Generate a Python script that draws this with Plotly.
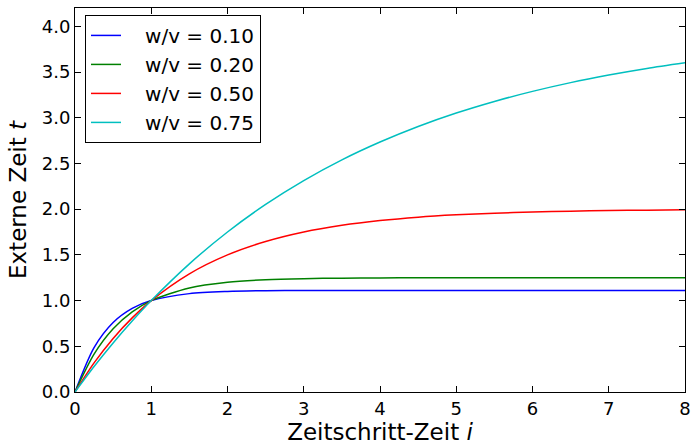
import plotly.graph_objects as go

# Sample points (Zeitschritt-Zeit i)
zeit_i = [0, 0.25, 0.5, 0.75, 1, 1.5, 2, 2.5, 3, 3.5, 4, 4.5, 5, 5.5, 6, 6.5, 7, 7.5, 8]

# Externe Zeit t per ratio w/v
t_010 = [0, 0.486, 0.760, 0.914, 1.0, 1.076, 1.100, 1.108, 1.110, 1.111, 1.111, 1.111, 1.111, 1.111, 1.111, 1.111, 1.111, 1.111, 1.111]
t_020 = [0, 0.414, 0.691, 0.876, 1.0, 1.138, 1.200, 1.228, 1.240, 1.2455, 1.248, 1.249, 1.2496, 1.2499, 1.25, 1.25, 1.25, 1.25, 1.25]
t_050 = [0, 0.318, 0.586, 0.811, 1.0, 1.293, 1.500, 1.646, 1.750, 1.823, 1.875, 1.912, 1.9375, 1.956, 1.969, 1.978, 1.984, 1.989, 1.992]
t_075 = [0, 0.278, 0.536, 0.776, 1.0, 1.402, 1.750, 2.052, 2.3125, 2.539, 2.734, 2.904, 3.051, 3.178, 3.288, 3.384, 3.466, 3.538, 3.600]

series_names = ["w/v = 0.10", "w/v = 0.20", "w/v = 0.50", "w/v = 0.75"]
series_values = [t_010, t_020, t_050, t_075]
series_colors = ["#0000ff", "#008000", "#ff0000", "#00bfbf"]

x_ticks = [0, 1, 2, 3, 4, 5, 6, 7, 8]
y_ticks = [0.0, 0.5, 1.0, 1.5, 2.0, 2.5, 3.0, 3.5, 4.0]

fig = go.Figure()
for k, (name, vals, col) in enumerate(zip(series_names, series_values, series_colors)):
    fig.add_trace(go.Scatter(
        x=zeit_i, y=vals, name="\u00a0\u00a0\u00a0" + name, mode="lines",
        line=dict(color=col, width=1.5, shape="spline", smoothing=0.8),
        legendgroup=f"g{k}",
    ))

axis_common = dict(
    showline=True, linecolor="black", linewidth=1, mirror="ticks",
    ticks="inside", ticklen=6, tickcolor="black", tickwidth=1,
    showgrid=False, zeroline=False, automargin=False,
    tickfont=dict(family="DejaVu Sans", size=18, color="black"),
)

fig.update_layout(
    width=691, height=445,
    margin=dict(l=75, r=6, t=8, b=53),
    paper_bgcolor="white", plot_bgcolor="white",
    font=dict(family="DejaVu Sans", color="black"),
    xaxis=dict(range=[0, 8], tickvals=x_ticks, ticktext=[str(v) for v in x_ticks],
               title=dict(text="Zeitschritt-Zeit <i>i</i>", font=dict(size=23), standoff=6),
               **axis_common),
    yaxis=dict(range=[0, 4.2], tickvals=y_ticks, ticktext=[f"{v:.1f}" for v in y_ticks],
               title=dict(text="Externe Zeit <i>t</i>", font=dict(size=23), standoff=8),
               **axis_common),
    legend=dict(
        x=0.0164, y=0.982, xanchor="left", yanchor="top",
        bordercolor="black", borderwidth=1, bgcolor="white",
        font=dict(family="DejaVu Sans", size=20, color="black"),
        tracegroupgap=0, itemwidth=30,
    ),
)

fig.write_html("out.html", config={"displayModeBar": False},
               post_script="document.body.style.margin='0';document.body.style.overflow='hidden';")
